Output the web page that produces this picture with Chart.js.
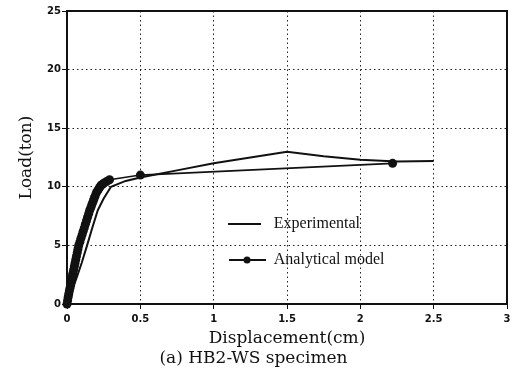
<!DOCTYPE html>
<html>
<head>
<meta charset="utf-8">
<script src="https://cdn.jsdelivr.net/npm/chart.js@4"></script>
<style>
    html, body { margin: 0; padding: 0; background: #fff; }
    #wrap { width: 518px; height: 376px; }
</style>
</head>
<body>
<div id="wrap"><canvas id="chart" width="518" height="376"></canvas></div>
<script>
// Load-displacement curve, HB2-WS specimen
const expX = [0, 0.03, 0.07, 0.1, 0.137, 0.17, 0.21, 0.25, 0.3, 0.4, 0.5, 0.75, 1.0, 1.25, 1.5, 1.75, 2.0, 2.25, 2.5];
const expY = [0, 1.0, 2.4, 3.5, 5.0, 6.4, 8.0, 9.0, 10.0, 10.5, 10.8, 11.4, 12.0, 12.5, 13.0, 12.6, 12.3, 12.15, 12.2];

const anaX = [0, 0.004, 0.008, 0.012, 0.016, 0.02, 0.024, 0.028, 0.032, 0.036, 0.04, 0.045, 0.05, 0.055, 0.06, 0.065, 0.07, 0.075, 0.08, 0.088, 0.095, 0.103, 0.11, 0.118, 0.125, 0.133, 0.14, 0.148, 0.155, 0.163, 0.17, 0.178, 0.185, 0.193, 0.2, 0.208, 0.215, 0.223, 0.23, 0.24, 0.25, 0.27, 0.29, 0.5, 2.22];
const anaY = [0, 0.3, 0.6, 0.85, 1.1, 1.35, 1.6, 1.85, 2.1, 2.35, 2.6, 2.9, 3.2, 3.5, 3.8, 4.1, 4.4, 4.7, 5.0, 5.3, 5.6, 5.9, 6.2, 6.5, 6.8, 7.1, 7.4, 7.7, 8.0, 8.25, 8.5, 8.75, 9.0, 9.25, 9.5, 9.65, 9.8, 9.95, 10.1, 10.2, 10.3, 10.45, 10.6, 11.0, 12.0];

const seriesNames = ["Experimental", "Analytical model"];
const xTitle = "Displacement(cm)";
const yTitle = "Load(ton)";
const caption = "(a) HB2-WS specimen";

const toPoints = (xs, ys) => xs.map((x, i) => ({ x, y: ys[i] }));

const serif = "'DejaVu Serif', serif";
const tickFont = { family: "'DejaVu Sans', sans-serif", size: 10, weight: "bold" };

// white background
const bgPlugin = {
    id: "bg",
    beforeDraw(chart) {
        const { ctx, width, height } = chart;
        ctx.save();
        ctx.fillStyle = "#fff";
        ctx.fillRect(0, 0, width, height);
        ctx.restore();
    }
};

// closed frame around the plot area
const framePlugin = {
    id: "frame",
    afterDatasetsDraw(chart) {
        const { ctx, chartArea: a } = chart;
        ctx.save();
        ctx.strokeStyle = "#111";
        ctx.lineWidth = 2;
        ctx.strokeRect(a.left, a.top, a.right - a.left, a.bottom - a.top);
        ctx.restore();
    }
};

// legend drawn inside the plot
const innerLegend = {
    id: "innerLegend",
    afterDraw(chart) {
        const { ctx, chartArea: a } = chart;
        const w = a.right - a.left;
        const h = a.bottom - a.top;
        const x0 = a.left + w * 0.366;
        const textX = a.left + w * 0.47;
        const rows = [a.top + h * 0.727, a.top + h * 0.85];
        ctx.save();
        ctx.strokeStyle = "#111";
        ctx.fillStyle = "#111";
        ctx.lineWidth = 2;
        chart.data.datasets.forEach((ds, i) => {
            const y = rows[i];
            const x1 = i === 0 ? x0 : x0 + 1;
            const x2 = i === 0 ? x0 + 33 : x0 + 38;
            ctx.beginPath();
            ctx.moveTo(x1, y);
            ctx.lineTo(x2, y);
            ctx.stroke();
            if (ds.pointRadius > 0) {
                ctx.beginPath();
                ctx.arc(x0 + 19, y, 3.5, 0, Math.PI * 2);
                ctx.fill();
            }
            ctx.font = "16px 'Liberation Serif', serif";
            ctx.textBaseline = "middle";
            ctx.textAlign = "left";
            ctx.fillText(ds.label, textX, y);
        });
        ctx.restore();
    }
};

new Chart(document.getElementById("chart"), {
    type: "scatter",
    data: {
        datasets: [
            {
                label: seriesNames[0],
                data: toPoints(expX, expY),
                showLine: true,
                borderColor: "#111",
                borderWidth: 2,
                pointRadius: 0,
                tension: 0,
                clip: false
            },
            {
                label: seriesNames[1],
                data: toPoints(anaX, anaY),
                showLine: true,
                borderColor: "#111",
                backgroundColor: "#111",
                borderWidth: 1.6,
                pointRadius: 4.5,
                pointBorderWidth: 0,
                tension: 0,
                clip: false
            }
        ]
    },
    options: {
        responsive: false,
        animation: false,
        layout: { padding: { top: 11, right: 11, bottom: 9, left: 0 } },
        plugins: {
            legend: { display: false },
            tooltip: { enabled: false },
            title: {
                display: true,
                position: "bottom",
                text: caption,
                color: "#111",
                font: { family: serif, size: 17, weight: "normal", lineHeight: 1 },
                padding: { top: 0, bottom: 0 }
            }
        },
        scales: {
            x: {
                type: "linear",
                min: 0,
                max: 3,
                ticks: {
                    stepSize: 0.5,
                    color: "#111",
                    font: tickFont,
                    padding: 4,
                    maxRotation: 0,
                    callback: v => String(v)
                },
                grid: { color: "#222", lineWidth: 1, tickLength: 5, tickColor: "#111" },
                border: { display: true, color: "#111", width: 2, dash: [1.5, 3] },
                title: {
                    display: true,
                    text: xTitle,
                    color: "#111",
                    font: { family: serif, size: 17, lineHeight: 1.2 },
                    padding: { top: 0, bottom: 1 }
                },
                afterFit(scale) { scale.height = 46; }
            },
            y: {
                type: "linear",
                min: 0,
                max: 25,
                ticks: {
                    stepSize: 5,
                    color: "#111",
                    font: tickFont,
                    padding: 1,
                    callback: v => String(v)
                },
                grid: { color: "#222", lineWidth: 1, tickLength: 5, tickColor: "#111" },
                border: { display: true, color: "#111", width: 2, dash: [1.5, 3] },
                title: {
                    display: true,
                    text: yTitle,
                    color: "#111",
                    font: { family: serif, size: 17, lineHeight: 1.2 },
                    padding: { top: 16, bottom: 0 }
                },
                afterFit(scale) { scale.width = 67; }
            }
        }
    },
    plugins: [bgPlugin, framePlugin, innerLegend]
});
</script>
</body>
</html>
